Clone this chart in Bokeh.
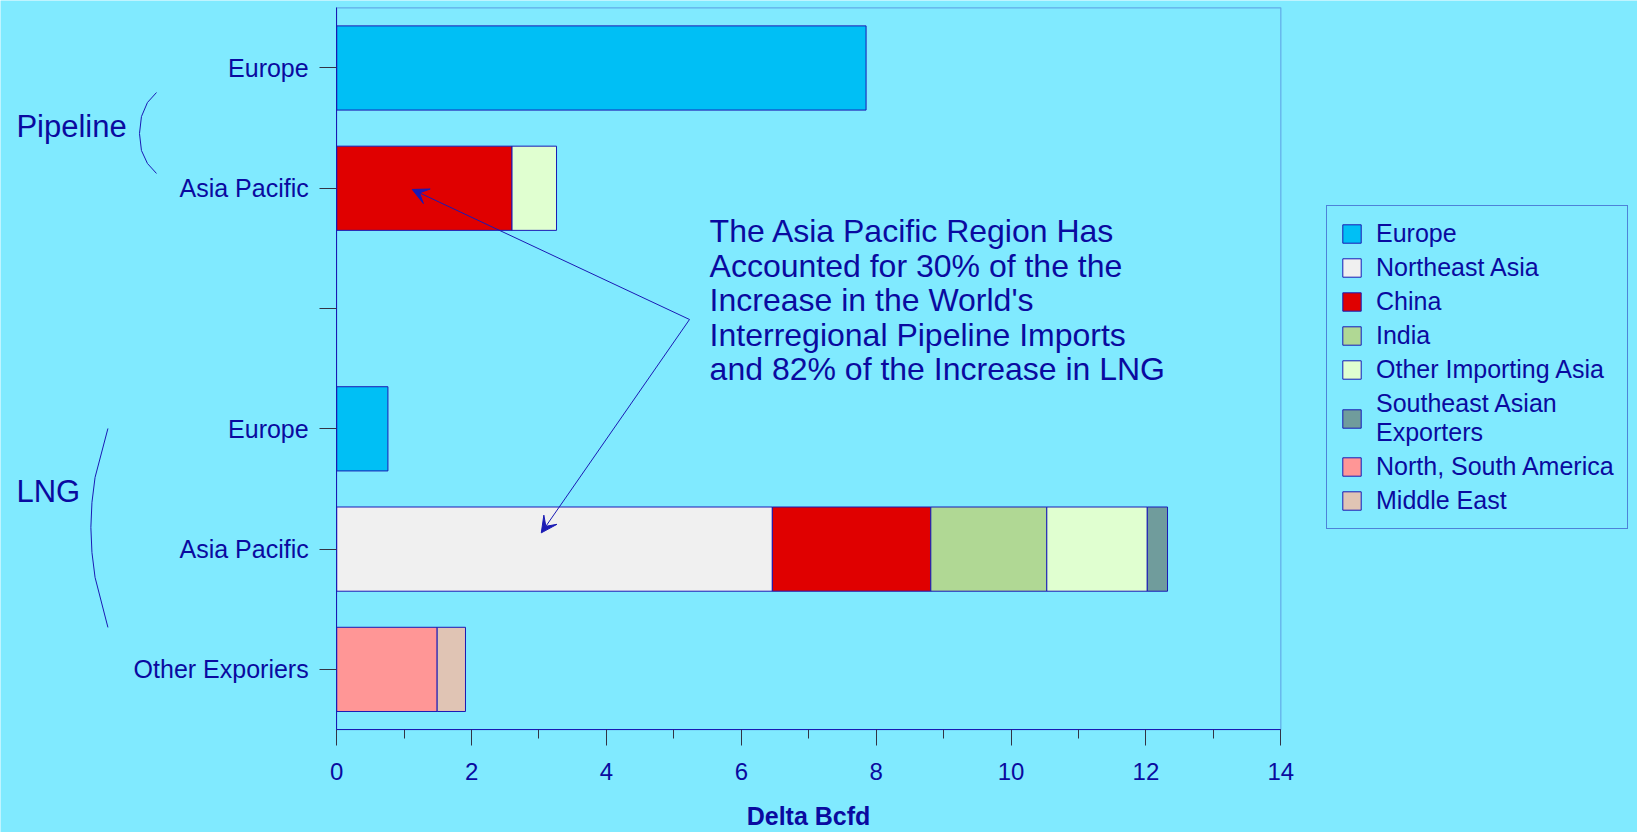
import numpy as np
from bokeh.plotting import figure
from bokeh.models import (Range1d, FixedTicker, SingleIntervalTicker, ColumnDataSource,
                          Legend, LegendItem, Label, Arrow, VeeHead, BoxAnnotation)
from bokeh.embed import file_html
from bokeh.resources import INLINE

# ---------------- data ----------------
rows = ["Europe", "Asia Pacific", "", "Europe", "Asia Pacific", "Other Exporiers"]
group_labels = ["Pipeline", "LNG"]
series_names = ["Europe", "Northeast Asia", "China", "India", "Other Importing Asia",
                "Southeast Asian\nExporters", "North, South America", "Middle East"]
europe = [7.85, 0, 0, 0.76, 0, 0]
northeast_asia = [0, 0, 0, 0, 6.46, 0]
china = [0, 2.60, 0, 0, 2.35, 0]
india = [0, 0, 0, 0, 1.72, 0]
other_importing_asia = [0, 0.66, 0, 0, 1.49, 0]
southeast_asian_exporters = [0, 0, 0, 0, 0.30, 0]
north_south_america = [0, 0, 0, 0, 0, 1.49]
middle_east = [0, 0, 0, 0, 0, 0.42]
x_min, x_max, x_step = 0, 14, 2
x_axis_title = "Delta Bcfd"
note_lines = ["The Asia Pacific Region Has",
              "Accounted for 30% of the the",
              "Increase in the World's",
              "Interregional Pipeline Imports",
              "and 82% of the Increase in LNG"]

series_values = [europe, northeast_asia, china, india, other_importing_asia,
                 southeast_asian_exporters, north_south_america, middle_east]
colors = ["#00BFF5", "#F0F0F0", "#E00000", "#B0D894", "#E0FFD0",
          "#709C9C", "#FF9696", "#E0C4B4"]

BG = "#80EAFF"
BLUE = "#1A1AB4"
TXT = "#0A0AA0"
FONT = "Liberation Sans"

# the frame covers the whole canvas; the plotting box sits where the reference has it
p = figure(width=1637, height=832,
           x_range=Range1d(-4.985, 19.289), y_range=Range1d(6.356, -0.561),
           output_backend="svg", toolbar_location=None,
           min_border=0, min_border_left=0, min_border_right=0,
           min_border_top=0, min_border_bottom=0)
p.background_fill_color = BG
p.border_fill_color = BG
p.outline_line_color = None
p.xgrid.visible = False
p.ygrid.visible = False

# ---------------- stacked bars ----------------
vals = np.array(series_values, dtype=float)
lefts = np.vstack([np.zeros(vals.shape[1]), np.cumsum(vals, axis=0)[:-1]])
ypos = np.arange(len(rows))
items = []
for k, name in enumerate(series_names):
    mask = vals[k] > 0
    src = ColumnDataSource(dict(y=ypos[mask], left=lefts[k][mask],
                                right=(lefts[k] + vals[k])[mask]))
    r = p.hbar(y="y", left="left", right="right", height=0.70, source=src,
               fill_color=colors[k], line_color=BLUE, line_width=1)
    items.append(LegendItem(label=name, renderers=[r]))

# plotting box outline
p.add_layout(BoxAnnotation(left=x_min, right=x_max, top=-0.5, bottom=len(rows) - 0.5,
                           fill_alpha=0, line_color=BLUE, line_width=1.2))

# ---------------- axes ----------------
xa = p.xaxis[0]
xa.fixed_location = len(rows) - 0.5
xa.bounds = (x_min, x_max)
xa.ticker = SingleIntervalTicker(interval=x_step, num_minor_ticks=2)
xa.axis_line_color = BLUE
xa.major_tick_in = 0
xa.major_tick_out = 16
xa.minor_tick_in = 0
xa.minor_tick_out = 9
xa.major_tick_line_color = "#333344"
xa.minor_tick_line_color = "#333344"
xa.major_label_text_font = FONT
xa.major_label_text_font_size = "24px"
xa.major_label_text_color = TXT
xa.major_label_standoff = 17
xa.axis_label = x_axis_title
xa.axis_label_text_font = FONT
xa.axis_label_text_font_size = "25px"
xa.axis_label_text_font_style = "bold"
xa.axis_label_text_color = TXT
xa.axis_label_standoff = 19

ya = p.yaxis[0]
ya.fixed_location = x_min
ya.bounds = (-0.5, len(rows) - 0.5)
ya.ticker = FixedTicker(ticks=list(range(len(rows))))
ya.major_label_overrides = {i: name for i, name in enumerate(rows)}
ya.axis_line_color = BLUE
ya.major_tick_in = 0
ya.major_tick_out = 17
ya.minor_tick_line_color = None
ya.major_tick_line_color = "#333344"
ya.major_label_text_font = FONT
ya.major_label_text_font_size = "25px"
ya.major_label_text_color = TXT
ya.major_label_standoff = 11

# ---------------- legend ----------------
legend = Legend(items=items, location=(1326, 303),
                label_text_font=FONT, label_text_font_size="25px",
                label_text_color=TXT, glyph_width=23, glyph_height=23,
                label_standoff=13, padding=13, spacing=5, margin=0,
                border_line_color=BLUE, border_line_width=1,
                background_fill_color=BG, background_fill_alpha=1.0)
p.add_layout(legend)

# ---------------- group labels and braces ----------------
p.add_layout(Label(x=-4.749, y=0.486, text=group_labels[0], text_font=FONT,
                   text_font_size="31px", text_color=TXT, text_baseline="alphabetic"))
p.add_layout(Label(x=-4.749, y=3.517, text=group_labels[1], text_font=FONT,
                   text_font_size="31px", text_color=TXT, text_baseline="alphabetic"))

brace1_x = [-2.672, -2.806, -2.895, -2.924, -2.895, -2.806, -2.672]
brace1_y = [0.204, 0.287, 0.404, 0.545, 0.686, 0.794, 0.877]
brace2_x = [-3.392, -3.583, -3.629, -3.645, -3.629, -3.583, -3.392]
brace2_y = [2.997, 3.404, 3.612, 3.820, 4.028, 4.235, 4.651]
for bx, by in ((brace1_x, brace1_y), (brace2_x, brace2_y)):
    for i in range(len(bx) - 1):
        p.add_layout(Arrow(x_start=bx[i], y_start=by[i], x_end=bx[i + 1], y_end=by[i + 1],
                           end=None, line_color=BLUE, line_width=1))

# ---------------- callout ----------------
note_y = [1.358, 1.645, 1.932, 2.218, 2.505]
for t, yy in zip(note_lines, note_y):
    p.add_layout(Label(x=5.53, y=yy, text=t, text_font=FONT, text_font_size="32px",
                       text_color=TXT, text_baseline="alphabetic"))

for xe, ye in ((1.121, 1.010), (3.034, 3.865)):
    p.add_layout(Arrow(x_start=5.232, y_start=2.091, x_end=xe, y_end=ye,
                       line_color=BLUE, line_width=1,
                       end=VeeHead(size=16, fill_color=BLUE, line_color=BLUE, line_width=1)))

open("out.html", "w").write(file_html(p, INLINE))
